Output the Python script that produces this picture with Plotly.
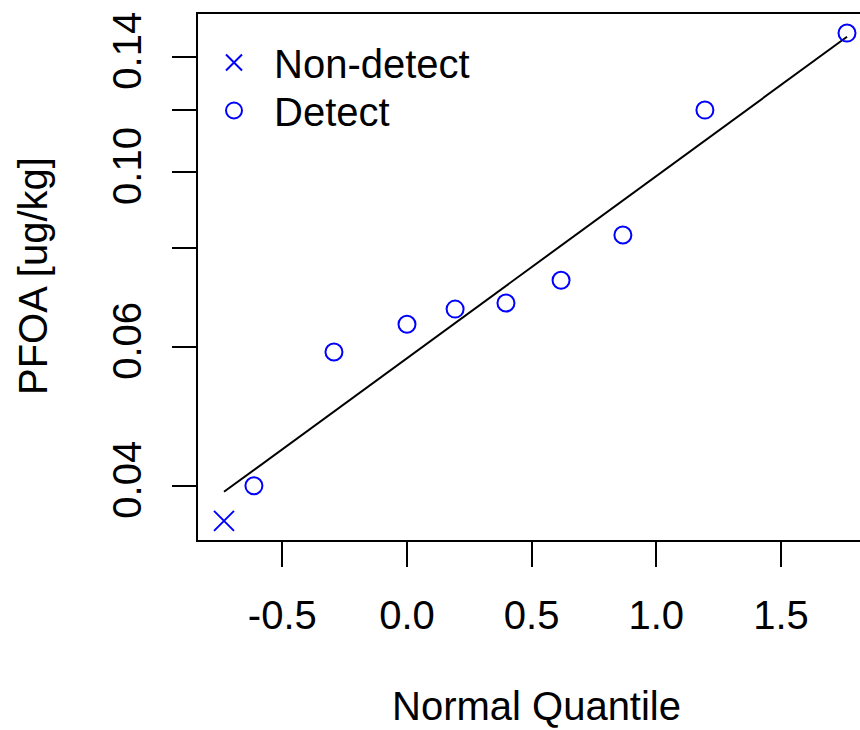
import math
import plotly.graph_objects as go

# ---- data ----
nondetect_q = [-0.734]
nondetect_pfoa = [0.0361]

detect_q = [-0.614, -0.293, 0.0, 0.193, 0.397, 0.618, 0.866, 1.195, 1.765]
detect_pfoa = [0.0400, 0.0591, 0.0641, 0.0670, 0.0682, 0.0729, 0.0832, 0.1198, 0.1500]

fit_q = [-0.734, 1.765]
fit_pfoa = [0.0393, 0.1484]

x_tickvals = [-0.5, 0.0, 0.5, 1.0, 1.5]
x_ticktext = ["-0.5", "0.0", "0.5", "1.0", "1.5"]
y_tickvals = [0.04, 0.06, 0.08, 0.10, 0.12, 0.14]
y_ticktext = ["0.04", "0.06", "", "0.10", "", "0.14"]

FONT = "Liberation Sans, Arial, sans-serif"
FS = 40
BLUE = "#0000ff"

fig = go.Figure()
fig.add_trace(go.Scatter(
    x=fit_q, y=fit_pfoa, mode="lines",
    line=dict(color="black", width=2), showlegend=False, hoverinfo="skip"))
fig.add_trace(go.Scatter(
    x=nondetect_q, y=nondetect_pfoa, mode="markers", name="Non-detect",
    legend="legend",
    marker=dict(symbol="x-thin-open", size=20, color=BLUE,
                line=dict(color=BLUE, width=2))))
fig.add_trace(go.Scatter(
    x=detect_q, y=detect_pfoa, mode="markers", name="Detect",
    legend="legend2",
    marker=dict(symbol="circle-open", size=17, color=BLUE,
                line=dict(color=BLUE, width=2))))

W, H = 860, 730
L, R, T, B = 198, 0, 14, 190
pw, ph = W - L - R, H - T - B


def legend_at(left_px, top_px):
    return dict(x=(left_px - L) / pw, y=1 - (top_px - T) / ph,
                xanchor="left", yanchor="top",
                bgcolor="rgba(0,0,0,0)", borderwidth=0,
                font=dict(family=FONT, size=FS, color="black"),
                itemwidth=70)


fig.update_layout(
    width=W, height=H,
    margin=dict(l=L, r=R, t=T, b=B, pad=0),
    paper_bgcolor="white", plot_bgcolor="white",
    font=dict(family=FONT, size=FS, color="black"),
    showlegend=True,
    legend=legend_at(194, 30),
    legend2=legend_at(194, 78),
    xaxis=dict(range=[-0.8383, 1.8171], showgrid=False, zeroline=False,
               showline=True, linecolor="black", linewidth=2, mirror=True,
               ticks="outside", ticklen=25, tickwidth=2, tickcolor="black",
               tickvals=x_tickvals, ticktext=x_ticktext,
               tickfont=dict(family=FONT, size=FS, color="black"),
               ticklabelstandoff=14),
    yaxis=dict(type="log", range=[math.log10(0.03414), math.log10(0.1586)],
               showgrid=False, zeroline=False,
               showline=True, linecolor="black", linewidth=2, mirror=False,
               ticks="outside", ticklen=24, tickwidth=2, tickcolor="black",
               tickvals=y_tickvals, ticktext=y_ticktext, tickangle=-90,
               tickfont=dict(family=FONT, size=FS, color="black"),
               ticklabelstandoff=15),
    annotations=[
        dict(text="Normal Quantile", xref="paper", yref="paper",
             x=(536 - L) / pw, y=(540 - 706) / ph,
             xanchor="center", yanchor="middle", showarrow=False,
             font=dict(family=FONT, size=FS, color="black")),
        dict(text="PFOA [ug/kg]", xref="paper", yref="paper",
             x=(33 - L) / pw, y=(540 - 276) / ph, textangle=-90,
             xanchor="center", yanchor="middle", showarrow=False,
             font=dict(family=FONT, size=FS, color="black")),
    ],
)

fig.write_html("out.html")
